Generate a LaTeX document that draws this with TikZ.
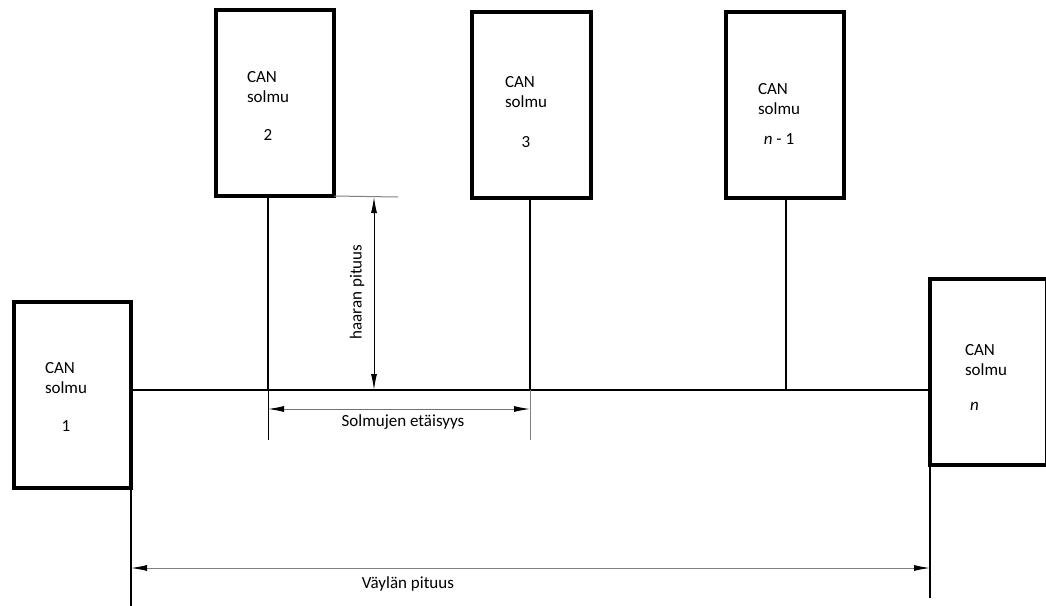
\documentclass[tikz,border=0pt]{standalone}
\usepackage{fontspec}
\setmainfont{Carlito}
\usetikzlibrary{arrows.meta}
\begin{document}
\begin{tikzpicture}[x=1pt,y=-1pt,
  canbox/.style={draw=black, line width=4pt, rectangle, inner sep=0pt, outer sep=0pt,
    minimum width=#1, minimum height=186pt},
  canlabel/.style={anchor=base west, inner sep=0pt, outer sep=0pt, align=left,
    font=\fontsize{17}{20}\selectfont},
  busline/.style={draw=black, line width=2pt},
  extline/.style={draw=#1, line width=1pt},
  dimline/.style={draw=#1, line width=1pt, {Latex[length=16pt,width=6pt,black]}-{Latex[length=16pt,width=6pt,black]}},
  dimtext/.style={inner sep=0pt, font=\fontsize{17}{20}\selectfont}]
\useasboundingbox (0,0) rectangle (1046,605);

% boxes
\node[canbox=117pt] (b1) at (72.5,395) {};
\node[canbox=118pt] (b2) at (275,103) {};
\node[canbox=119pt] (b3) at (531.5,105) {};
\node[canbox=118pt] (bn1) at (785,105) {};
\node[canbox=117pt] (bn) at (988.5,372) {};

% labels
\node[canlabel] (l1) at (45,373.5) {\begin{tabular}[t]{@{}l@{}}CAN\\solmu\\[18pt]\multicolumn{1}{@{}c@{}}{1}\end{tabular}};
\node[canlabel] (l2) at (247,82.5) {\begin{tabular}[t]{@{}l@{}}CAN\\solmu\\[18pt]\multicolumn{1}{@{}c@{}}{2}\end{tabular}};
\node[canlabel] (l3) at (505,87.5) {\begin{tabular}[t]{@{}l@{}}CAN\\solmu\\[20pt]\multicolumn{1}{@{}c@{}}{3}\end{tabular}};
\node[canlabel] (ln1) at (758,94.5) {\begin{tabular}[t]{@{}l@{}}CAN\\solmu\\[10pt]\multicolumn{1}{@{}c@{}}{\textit{n} - 1}\end{tabular}};
\node[canlabel] (ln) at (965,355.5) {\begin{tabular}[t]{@{}l@{}}CAN\\solmu\\[15pt]\hspace*{5pt}\textit{n}\end{tabular}};

% bus and taps
\coordinate (t2) at (268,390);
\coordinate (t3) at (530,390);
\coordinate (tn1) at (786,390);
\draw[busline] (b1.east |- t2) -- (bn.west |- t2);
\draw[busline] (t2 |- b2.south) -- (t2);
\draw[busline] (t3 |- b3.south) -- (t3);
\draw[busline] (tn1 |- bn1.south) -- (tn1);

% lower vertical lines
\coordinate (botL) at (0,606);
\coordinate (botR) at (0,598);
\draw[busline] (b1.south east) -- (b1.south east |- botL);
\draw[busline] (bn.south west) -- (bn.south west |- botR);

% extension lines for node distance
\coordinate (ext) at (0,440);
\draw[extline=black] (t2) -- (t2 |- ext);
\draw[extline=gray] (t3) -- (t3 |- ext);

% node distance dimension
\coordinate (sd) at (0,409);
\draw[dimline=gray!90!black] (t2 |- sd) -- (t3 |- sd);
\node[dimtext] (sdt) at (403,422) {Solmujen etäisyys};

% branch length dimension
\coordinate (hx) at (374,0);
\coordinate (hext) at (398,197);
\draw[extline=gray] (b2.south east) -- (hext);
\draw[dimline=black] (hx |- hext) -- (hx |- t2);
\node[dimtext, rotate=90] (hpt) at (357,292) {haaran pituus};

% bus length dimension
\coordinate (vd) at (0,568);
\draw[dimline=gray] (b1.south east |- vd) -- (bn.south west |- vd);
\node[dimtext] (vpt) at (408,584) {Väylän pituus};
\end{tikzpicture}
\end{document}
